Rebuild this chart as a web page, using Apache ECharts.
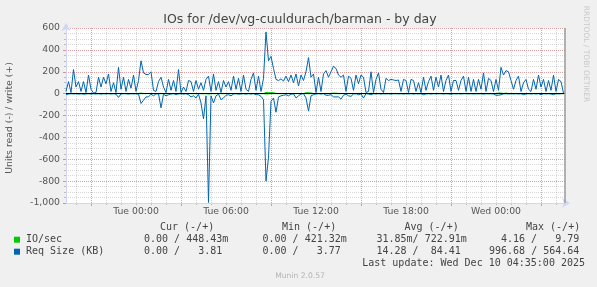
<!DOCTYPE html>
<html>
<head>
<meta charset="utf-8">
<script src="https://cdn.jsdelivr.net/npm/echarts@6.0.0/dist/echarts.min.js"></script>
<style>
html,body{margin:0;padding:0;background:#f0f0f0;overflow:hidden}
#chart{width:597px;height:287px}
</style>
</head>
<body>
<div id="chart"></div>
<script>
// ---- time axis, minutes relative to Tue 00:00 ----
const startMinute = -280;        // Mon 19:20, first sample
const stepMinutes = 10;
const axisMinMinute = -280;
const axisMaxMinute = 1716;
const lastUpdateMinute = 1715;   // Wed 04:35
const timeLabels = ['Tue 00:00', 'Tue 06:00', 'Tue 12:00', 'Tue 18:00', 'Wed 00:00'];
const timeLabelMinutes = [0, 360, 720, 1080, 1440];
const majorGridMinutes = [-180, 180, 540, 900, 1260, 1620];

// ---- y axis ----
const yMin = -1000, yMax = 600, yMajor = 200, yMinor = 50;

// ---- Req Size (KB), write (+) ----
const reqSizeWrite = [
  20,110,10,220,60,110,
  20,110,10,170,40,5,
  10,150,60,150,90,180,
  20,100,10,240,40,150,
  20,130,50,170,20,120,
  300,190,175,175,200,30,
  20,110,150,60,10,130,
  30,120,20,220,10,60,
  20,120,110,20,120,40,
  100,30,130,160,20,180,
  30,110,10,120,60,110,
  30,160,40,140,20,170,
  40,20,130,190,30,160,
  20,140,564,300,340,230,
  130,120,135,115,160,110,
  170,100,180,70,170,120,
  200,330,150,180,10,150,
  20,180,210,150,200,250,
  230,170,150,170,20,160,
  140,30,170,90,170,150,
  10,20,200,10,130,190,
  40,10,140,120,130,125,
  120,125,20,130,120,10,
  130,120,20,100,10,150,
  30,110,160,30,150,60,
  170,20,120,170,20,120,
  120,30,120,160,20,150,
  20,130,20,130,40,190,
  20,140,120,20,130,30,
  240,170,210,200,120,40,
  120,160,20,100,130,40,
  20,130,40,170,60,130,
  20,120,30,170,20,130,110,4
];
// ---- Req Size (KB), read (-) ----
const reqSizeRead = [
  10,3,0,2,0,4,
  0,5,2,0,3,0,
  2,0,4,0,2,0,
  3,0,5,35,2,0,
  0,4,0,2,0,5,
  90,60,30,30,5,20,
  2,0,130,5,20,10,
  3,0,8,2,0,4,
  0,10,30,20,40,5,
  85,230,20,995,20,85,
  20,5,55,40,15,10,
  20,3,0,5,2,0,
  4,0,3,0,10,10,
  25,55,800,580,70,40,
  170,30,20,15,10,20,
  5,2,40,20,3,0,
  40,160,20,10,2,0,
  3,0,15,15,10,30,
  30,30,50,15,5,20,
  25,3,0,10,2,40,
  0,3,10,0,2,0,
  3,0,2,0,4,0,
  0,2,0,3,0,2,
  0,3,0,2,0,10,
  2,0,3,0,2,0,
  0,3,0,2,5,0,
  2,0,3,0,0,2,
  0,3,0,2,0,4,
  0,2,0,3,15,15,
  10,2,0,3,0,2,
  0,3,0,10,2,0,
  3,0,2,0,10,0,
  2,0,3,10,0,2,0,0
];
// ---- IO/sec, write (+) ----
const ioWrite = [
  0.6,0.8,0.5,0.9,0.6,0.7,
  0.5,0.7,0.5,0.8,0.6,0.4,
  0.5,0.8,0.6,0.7,0.6,0.8,
  0.5,0.7,0.5,0.9,0.6,0.7,
  0.5,0.7,0.6,0.8,0.5,0.7,
  5,1.2,1.0,1.0,1.1,0.5,
  0.5,0.7,0.8,0.6,0.4,0.7,
  0.5,0.7,0.5,0.9,0.4,0.6,
  0.5,0.7,0.7,0.5,0.7,0.5,
  0.7,0.5,0.8,0.9,0.5,0.9,
  0.5,0.7,0.4,0.7,0.6,0.7,
  0.5,0.8,0.5,0.7,0.5,0.8,
  0.5,0.5,0.7,0.9,0.5,0.8,
  0.5,0.8,9.79,9,9,9,
  2,0.8,0.8,0.7,0.9,0.7,
  0.9,0.7,0.9,0.6,0.9,0.7,
  8,9,6,0.9,0.4,0.8,
  0.5,0.9,1.0,0.8,1.0,5,
  4,0.9,0.8,0.9,0.5,0.8,
  0.8,0.5,0.9,0.6,0.9,0.8,
  0.4,0.5,4,0.4,0.7,0.9,
  0.5,0.4,0.8,0.7,0.7,0.7,
  0.7,0.7,0.5,0.7,0.7,0.4,
  0.7,0.7,0.5,0.6,0.4,0.8,
  0.5,0.6,0.8,0.5,0.8,0.5,
  0.9,0.5,0.7,0.9,0.5,0.7,
  0.7,0.5,0.7,0.8,0.5,0.8,
  0.5,0.7,0.5,0.7,0.5,0.9,
  0.5,0.8,0.7,0.5,0.7,5,
  5,0.9,5,1.0,0.7,0.5,
  0.7,0.8,0.5,0.6,0.7,0.5,
  0.5,0.7,0.5,0.9,0.5,0.7,
  0.5,0.7,0.5,0.9,0.5,0.7,0.6,0.45
];
// ---- IO/sec, read (-) ----
const ioRead = [
  0,0,0,0,0,0, 0,0,0,0,0,0, 0,0,0,0,0,0, 0,0,0,0.1,0,0, 0,0,0,0,0,0,
  0.3,0.2,0.1,0.1,0,0, 0,0,0.4,0,0,0, 0,0,0,0,0,0, 0,0,0.1,0,0.1,0,
  0.3,1,0,4.16,0,0.3, 0,0,0.2,0.1,0,0, 0,0,0,0,0,0, 0,0,0,0,0,0,
  0,0.2,3,2,0.2,0.1, 0.5,0.1,0,0,0,0, 0,0,0.1,0,0,0, 0.1,0.5,0,0,0,0,
  0,0,0,0,0,0.1, 0.1,0.1,0.2,0,0,0, 0.1,0,0,0,0,0.1, 0,0,0,0,0,0,
  0,0,0,0,0,0, 0,0,0,0,0,0, 0,0,0,0,0,0, 0,0,0,0,0,0, 0,0,0,0,0,0,
  0,0,0,0,0,0, 0,0,0,0,0,0, 0,0,0,0,0,0, 0,0,0,0,0,0, 0,0,0,0,0,0,
  0,0,0,0,0,0, 0,0,0,0,0,0,0,0
];

// ---- legend texts ----
const legendHeaders = ['Cur (-/+)', 'Min (-/+)', 'Avg (-/+)', 'Max (-/+)'];
const ioLabel = 'IO/sec';
const ioStats = ['0.00 / 448.43m', '0.00 / 421.32m', '31.85m/ 722.91m', '4.16 /   9.79'];
const reqLabel = 'Req Size (KB)';
const reqStats = ['0.00 /   3.81', '0.00 /   3.77', '14.28 /  84.41', '996.68 / 564.64'];
const lastUpdateText = 'Last update: Wed Dec 10 04:35:00 2025';
const titleText = 'IOs for /dev/vg-cuuldurach/barman - by day';
const yAxisTitle = 'Units read (-) / write (+)';
const sideText = 'RRDTOOL / TOBI OETIKER';
const versionText = 'Munin 2.0.57';

const GREEN = '#00cc00', BLUE = '#0066b3';

const times = reqSizeWrite.map((_, i) => startMinute + i * stepMinutes);
const toPairs = (arr, sign) => arr.map((v, i) => [times[i], sign * v]);

const minorGridMinutes = [];
for (let m = Math.ceil(axisMinMinute / 60) * 60; m <= axisMaxMinute; m += 60) minorGridMinutes.push(m);

const chart = echarts.init(document.getElementById('chart'), null, {renderer: 'canvas', width: 597, height: 287});

const AXIS_FONT = 'DejaVu Sans';
const MONO = '"DejaVu Sans Mono"';
const TXT = '#555555';

function text(x, y, str, font, fill, align, extra) {
  return Object.assign({
    type: 'text', x: x, y: y, silent: true,
    style: {text: str, font: font, fill: fill, align: align || 'left', verticalAlign: 'middle',
            textAlign: align || 'left', textVerticalAlign: 'middle'}
  }, extra || {});
}

const colX = [144, 262.5, 376.5, 501];
const colX2 = [144, 262.5, 376.5, 489];
const headX = [160, 282, 404.5, 526];
const legendFont = '10px ' + MONO;

const elements = [
  text(300, 20, titleText, '12.5px "DejaVu Sans"', '#444', 'center'),
  text(10, 118, yAxisTitle, '9.3px "DejaVu Sans"', TXT, 'center', {rotation: Math.PI / 2}),
  text(585.5, 54, sideText, '7.5px "DejaVu Sans"', '#c8c8c8', 'center', {rotation: -Math.PI / 2}),
  text(300, 276, versionText, '7.6px "DejaVu Sans"', '#b4b4b4', 'center'),
  text(585, 263.3, lastUpdateText, legendFont, '#444', 'right'),
  {type: 'rect', silent: true, shape: {x: 14, y: 236.7, width: 6, height: 6}, style: {fill: GREEN}},
  {type: 'rect', silent: true, shape: {x: 14, y: 248.7, width: 6, height: 6}, style: {fill: BLUE}},
  text(26, 239.7, ioLabel, legendFont, '#444'),
  text(26, 251.7, reqLabel, legendFont, '#444')
];
legendHeaders.forEach((h, k) => elements.push(text(headX[k], 227.3, h, legendFont, '#444')));
ioStats.forEach((s, k) => elements.push(text(colX[k], 239.7, s, legendFont, '#444')));
reqStats.forEach((s, k) => elements.push(text(colX2[k], 251.7, s, legendFont, '#444')));

const minorColor = 'rgba(150,150,150,0.38)';
const majorColor = 'rgba(230,100,100,0.48)';

const baseX = {type: 'value', min: axisMinMinute, max: axisMaxMinute, position: 'bottom', silent: true};

const option = {
  animation: false,
  backgroundColor: '#f0f0f0',
  grid: {left: 66, top: 28, width: 499, height: 175, show: true, backgroundColor: '#ffffff', borderWidth: 0},
  xAxis: [
    Object.assign({}, baseX, {
      z: 3,
      axisLine: {show: true, onZero: false, lineStyle: {color: '#cfd6f8', width: 1}, symbol: ['none', 'arrow'], symbolSize: [7, 8], symbolOffset: [0, 5]},
      axisTick: {show: false},
      splitLine: {show: false},
      axisLabel: {customValues: timeLabelMinutes, formatter: v => timeLabels[timeLabelMinutes.indexOf(v)] || '',
                  color: TXT, fontSize: 9.3, fontFamily: AXIS_FONT, margin: 4}
    }),
    Object.assign({}, baseX, {
      z: 0,
      axisLine: {show: false, onZero: false},
      axisTick: {show: true, customValues: minorGridMinutes, length: 2, lineStyle: {color: '#bbbbbb'}},
      axisLabel: {show: false},
      splitLine: {show: true, lineStyle: {color: minorColor, width: 1, type: [1, 1]}}
    }),
    Object.assign({}, baseX, {
      z: 1,
      axisLine: {show: false, onZero: false},
      axisTick: {show: true, customValues: majorGridMinutes, length: 3, lineStyle: {color: '#e88888'}},
      axisLabel: {show: false},
      splitLine: {show: true, lineStyle: {color: majorColor, width: 1, type: [1, 1]}}
    })
  ],
  yAxis: [
    {
      type: 'value', min: yMin, max: yMax, interval: yMajor, position: 'left', z: 3, silent: true,
      axisLine: {show: true, onZero: false, lineStyle: {color: '#cfd6f8', width: 1}, symbol: ['none', 'arrow'], symbolSize: [7, 8], symbolOffset: [0, 5]},
      axisTick: {show: true, length: 3, lineStyle: {color: '#e88888'}},
      axisLabel: {color: TXT, fontSize: 9.3, fontFamily: AXIS_FONT, margin: 6},
      splitLine: {show: true, lineStyle: {color: majorColor, width: 1, type: [1, 1]}}
    },
    {
      type: 'value', min: yMin, max: yMax, interval: yMinor, position: 'left', z: 0, silent: true,
      axisLine: {show: false, onZero: false},
      axisTick: {show: true, length: 2, lineStyle: {color: '#bbbbbb'}},
      axisLabel: {show: false},
      splitLine: {show: true, lineStyle: {color: minorColor, width: 1, type: [1, 1]}}
    }
  ],
  graphic: {elements: elements},
  series: [
    {type: 'line', name: 'IO/sec read', data: toPairs(ioRead, -1), showSymbol: false, symbol: 'none',
     lineStyle: {color: GREEN, width: 1}, silent: true, z: 2},
    {type: 'line', name: 'IO/sec write', data: toPairs(ioWrite, 1), showSymbol: false, symbol: 'none',
     lineStyle: {color: GREEN, width: 1}, silent: true, z: 2},
    {type: 'line', name: 'Req read', data: toPairs(reqSizeRead, -1), showSymbol: false, symbol: 'none',
     lineStyle: {color: BLUE, width: 1}, silent: true, z: 3},
    {type: 'line', name: 'Req write', data: toPairs(reqSizeWrite, 1), showSymbol: false, symbol: 'none',
     lineStyle: {color: BLUE, width: 1}, silent: true, z: 3,
     markLine: {silent: true, symbol: 'none', animation: false, z: 6, label: {show: false},
       data: [
         {yAxis: 0, lineStyle: {color: '#000000', width: 1, type: 'solid'}},
         {xAxis: lastUpdateMinute, lineStyle: {color: '#9a9a9a', width: 1.5, type: 'solid'}}
       ]}}
  ]
};
chart.setOption(option);
</script>
</body>
</html>
